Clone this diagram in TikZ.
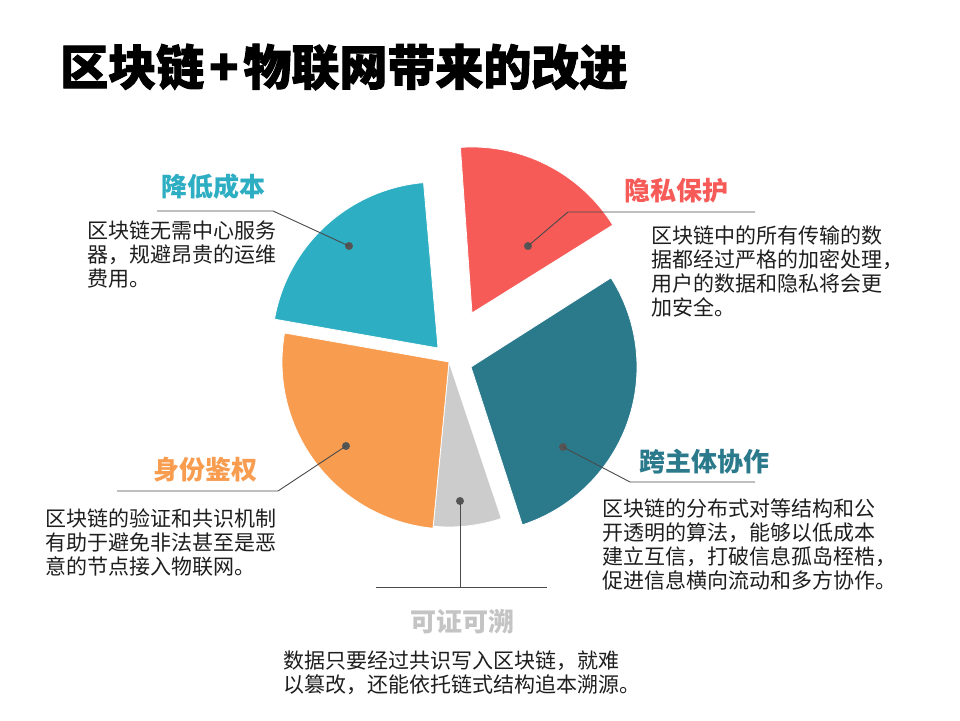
\documentclass[tikz,border=0pt]{standalone}
\usepackage{fontspec}
\setmainfont{Noto Sans CJK SC}
\newfontfamily\heavyfont[BoldFeatures={FakeBold=2}]{Noto Sans CJK SC}
\definecolor{cteal}{HTML}{2DAEC2}
\definecolor{cred}{HTML}{F65B58}
\definecolor{cdark}{HTML}{2B7A8C}
\definecolor{corange}{HTML}{F89C50}
\definecolor{cgray}{HTML}{CCCCCC}
\definecolor{tgray}{HTML}{C4C4C4}
\definecolor{dotgray}{HTML}{555555}
\definecolor{linegray}{HTML}{4A4A4A}
\definecolor{bodytext}{HTML}{1E1E1E}
\begin{document}
\begin{tikzpicture}[x=1pt,y=1pt,
  slice/.style={draw=white, line width=0.8pt},
  dot/.style={circle, fill=dotgray, inner sep=0pt, minimum size=8pt},
  leader/.style={draw=linegray, line width=0.9pt},
  heading/.style={font=\fontsize{26}{30}\selectfont\bfseries, inner sep=0pt, anchor=center},
  body/.style={font=\fontsize{21}{24}\selectfont, text=bodytext, align=left, anchor=north west, inner sep=0pt},
]
\useasboundingbox (0,0) rectangle (960,720);
\fill[white] (0,0) rectangle (960,720);

% main title
\node[anchor=west, inner sep=0pt, font=\heavyfont\bfseries\fontsize{48}{52}\selectfont] (title) at (60,653) {区块链\hspace{5pt}+\hspace{5pt}物联网带来的改进};

% pie slices
\path[slice, fill=cteal] (438,372) -- ++(95:166) arc[start angle=95, end angle=170, radius=166] -- cycle;
\path[slice, fill=cred] (472,407) -- ++(32:166) arc[start angle=32, end angle=94, radius=166] -- cycle;
\path[slice, fill=cdark] (471,353) -- ++(-72:166) arc[start angle=-72, end angle=32.5, radius=166] -- cycle;
\path[slice, fill=cgray] (449,358) -- ++(-95.5:165) arc[start angle=-95.5, end angle=-71.5, radius=165] -- cycle;
\path[slice, fill=corange] (449,358) -- ++(170:167) arc[start angle=170, end angle=264.5, radius=167] -- cycle;

% dots
\node[dot] (d1) at (349,474) {};
\node[dot] (d2) at (528,474) {};
\node[dot] (d3) at (563,273) {};
\node[dot] (d4) at (346,274) {};
\node[dot] (d5) at (460,219) {};

% leader elbows
\coordinate (e1a) at (273,509); \coordinate (e1b) at (157,509);
\coordinate (e2a) at (568,508); \coordinate (e2b) at (755,508);
\coordinate (e3a) at (630,238); \coordinate (e3b) at (755,238);
\coordinate (e4a) at (278,229); \coordinate (e4b) at (117,229);
\coordinate (e5a) at (460,133); \coordinate (e5l) at (376,133); \coordinate (e5r) at (547,133);

\draw[leader] (d1.center) -- (e1a) -- (e1b);
\draw[leader] (d2.center) -- (e2a) -- (e2b);
\draw[leader] (d3.center) -- (e3a) -- (e3b);
\draw[leader] (d4.center) -- (e4a) -- (e4b);
\draw[leader] (d5.center) -- (e5a);
\draw[leader] (e5l) -- (e5r);

% headings
\node[heading, text=cteal] (h1) at (213,533) {降低成本};
\node[heading, text=cred] (h2) at (676,529) {隐私保护};
\node[heading, text=cdark] (h3) at (704,258) {跨主体协作};
\node[heading, text=corange] (h4) at (205,250) {身份鉴权};
\node[heading, text=tgray] (h5) at (462,98) {可证可溯};

% bodies
\node[body] (b1) at (87,499) {区块链无需中心服务\\器，规避昂贵的运维\\费用。};
\node[body] (b2) at (651,494) {区块链中的所有传输的数\\据都经过严格的加密处理，\\用户的数据和隐私将会更\\加安全。};
\node[body] (b3) at (602,221) {区块链的分布式对等结构和公\\开透明的算法，能够以低成本\\建立互信，打破信息孤岛桎梏，\\促进信息横向流动和多方协作。};
\node[body] (b4) at (45,211) {区块链的验证和共识机制\\有助于避免非法甚至是恶\\意的节点接入物联网。};
\node[body] (b5) at (283,69) {数据只要经过共识写入区块链，就难\\以篡改，还能依托链式结构追本溯源。};
\end{tikzpicture}
\end{document}
